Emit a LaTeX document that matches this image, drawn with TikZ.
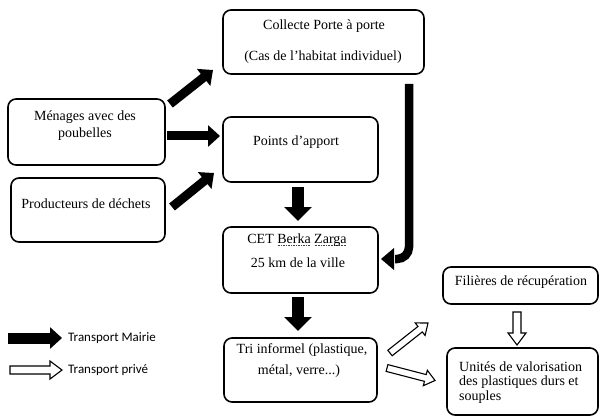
\documentclass[tikz,border=0pt]{standalone}
\usepackage{fontspec}
\setmainfont{Liberation Serif}
\setsansfont{Carlito}
\usetikzlibrary{calc,arrows.meta}
\newcommand\dotul[1]{\leavevmode\setbox0=\hbox{#1}\rlap{\raisebox{-2.5pt}{\color{darkgray}\hbox to \wd0{\xleaders\hbox to 1.6pt{\hss\vrule width 0.9pt height 0.7pt\hss}\hfill}}}\box0}
\tikzset{
  box/.style={draw, line width=1.6pt, rounded corners=8pt, inner sep=0pt, outer sep=0pt},
  txt/.style={inner sep=0pt, font=\fontsize{14}{16}\selectfont},
  leg/.style={inner sep=0pt, anchor=west, font=\sffamily\fontsize{13}{15}\selectfont},
  bigarrow/.style={line width=9pt, -{Triangle[length=12pt,width=21pt]}},
  vertarrow/.style={line width=12pt, -{Triangle[length=14pt,width=27pt]}},
  hollow/.style={draw=black, fill=white, line width=1.1pt, line join=miter}
}
\newcommand\blockarrow[6][]{%
  \coordinate (bab) at ($(#3)!#6!(#2)$);
  \path[#1] ($(#2)!#4!90:(#3)$) -- ($(bab)!#4!90:(#3)$) -- ($(bab)!#5!90:(#3)$) -- (#3)
     -- ($(bab)!#5!-90:(#3)$) -- ($(bab)!#4!-90:(#3)$) -- ($(#2)!#4!-90:(#3)$) -- cycle;
}
\begin{document}
\begin{tikzpicture}[x=1pt,y=-1pt]
\useasboundingbox (0,0) rectangle (600,417);
% boxes
\node[box, minimum width=201pt, minimum height=64pt] (collecte) at (323.5,42) {};
\node[box, minimum width=157pt, minimum height=66pt] (menages) at (86.5,132) {};
\node[box, minimum width=154pt, minimum height=64pt] (producteurs) at (88,210) {};
\node[box, minimum width=155pt, minimum height=65pt] (points) at (300.5,149.5) {};
\node[box, minimum width=155pt, minimum height=66pt] (cet) at (300.5,260) {};
\node[box, minimum width=153pt, minimum height=64pt] (tri) at (300.5,370) {};
\node[box, minimum width=155pt, minimum height=37pt] (filieres) at (520.5,285.5) {};
\node[box, minimum width=151pt, minimum height=67pt] (unites) at (522.5,381.5) {};
% texts
\node[txt] (t1) at (324,26) {Collecte Porte à porte};
\node[txt] (t2) at (323,57) {(Cas de l’habitat individuel)};
\node[txt] (t3) at (85,117) {Ménages avec des};
\node[txt] (t4) at (85,134) {poubelles};
\node[txt] (t5) at (86,204) {Producteurs de déchets};
\node[txt] (t6) at (296,142) {Points d’apport};
\node[txt] (t7) at (297,240) {CET \dotul{Berka}\ \dotul{Zarga}};
\node[txt] (t8) at (298,263) {25 km de la ville};
\node[txt] (t9) at (302,350) {Tri informel (plastique,};
\node[txt] (t10) at (299,371) {métal, verre...)};
\node[txt] (t11) at (521,282) {Filières de récupération};
\node[txt, anchor=west] (t12) at (459,367) {Unités de valorisation};
\node[txt, anchor=west] (t13) at (459,382) {des plastiques durs et};
\node[txt, anchor=west] (t14) at (459,397) {souples};
% black arrows
\coordinate (a1s) at ($(menages.north east)+(5,5)$);
\coordinate (a1e) at ($(collecte.west)+(-10,28)$);
\draw[bigarrow] (a1s) -- (a1e);
\coordinate (a2s) at ($(menages.east)+(2,4)$);
\coordinate (a2e) at ($(points.west)+(-3,-13.5)$);
\draw[bigarrow] (a2s) -- (a2e);
\coordinate (a3s) at ($(producteurs.east)+(7,-3)$);
\coordinate (a3e) at ($(points.west)+(-9,23.5)$);
\draw[bigarrow] (a3s) -- (a3e);
\coordinate (a4s) at ($(points.south)+(-2.5,5)$);
\coordinate (a4e) at ($(cet.north)+(-2.5,-6)$);
\draw[vertarrow] (a4s) -- (a4e);
\coordinate (a5s) at ($(cet.south)+(-2.5,4)$);
\coordinate (a5e) at ($(tri.north)+(-2.5,-7)$);
\draw[vertarrow] (a5s) -- (a5e);
\coordinate (b1) at ($(collecte.south east)+(-15,10)$);
\coordinate (b2) at ($(cet.east)+(16,-1)$);
\coordinate (b3) at ($(cet.east)+(3,-1)$);
\draw[line width=8.5pt, rounded corners=12pt] (b1) |- ($(b2)+(1,0)$);
\fill (b2) ++(0,-11) -- (b3) -- ($(b2)+(0,11)$) -- cycle;
% hollow arrows
\coordinate (h1s) at ($(tri.east)+(13,-17)$);
\coordinate (h1e) at ($(filieres.south west)+(-15,19)$);
\blockarrow[hollow]{h1s}{h1e}{3.5pt}{8pt}{10pt}
\coordinate (h2s) at ($(tri.east)+(10,-2)$);
\coordinate (h2e) at ($(unites.west)+(-12,-1)$);
\blockarrow[hollow]{h2s}{h2e}{3.5pt}{8pt}{10pt}
\coordinate (h3s) at ($(filieres.south)+(-3.5,8)$);
\coordinate (h3e) at ($(unites.north)+(-5.5,-3)$);
\blockarrow[hollow]{h3s}{h3e}{4pt}{9pt}{12pt}
% legend
\coordinate (l1s) at (8,338);
\coordinate (l1e) at (62,338);
\draw[line width=11pt, -{Triangle[length=12pt,width=21pt]}] (l1s) -- (l1e);
\node[leg] (lt1) at (68,338) {Transport Mairie};
\coordinate (l2s) at (10,370);
\coordinate (l2e) at (62,370);
\blockarrow[hollow]{l2s}{l2e}{4pt}{9pt}{12pt}
\node[leg] (lt2) at (68,370) {Transport privé};
\end{tikzpicture}
\end{document}
